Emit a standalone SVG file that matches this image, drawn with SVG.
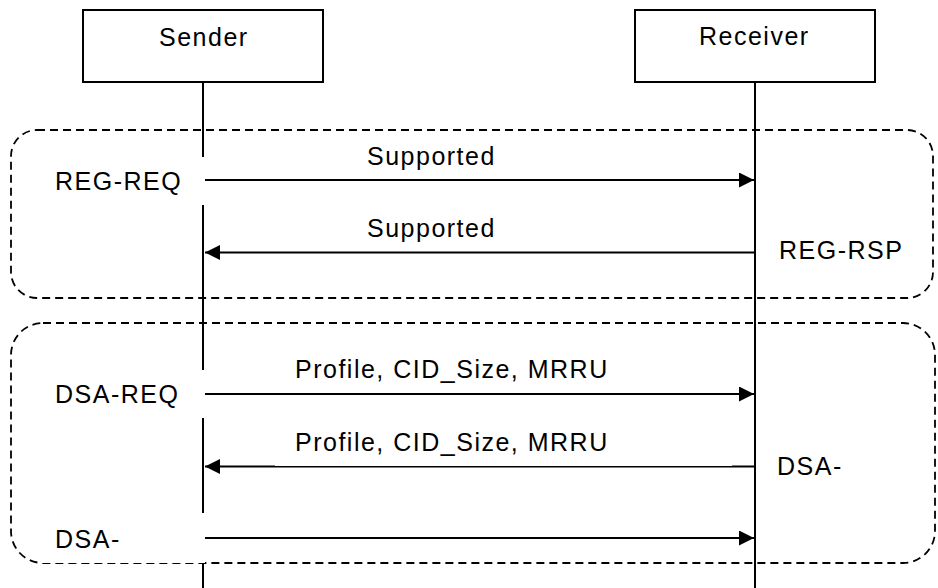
<svg xmlns="http://www.w3.org/2000/svg" width="938" height="588" viewBox="0 0 938 588">
  <style>
    text { font-family: "Liberation Sans", Arial, sans-serif; font-size: 25px; letter-spacing: 1.5px; fill: #000; }
    .box { fill: #fff; stroke: #000; stroke-width: 2; }
    .life { stroke: #000; stroke-width: 2; fill: none; }
    .frame { fill: none; stroke: #000; stroke-width: 1.8; stroke-dasharray: 8 5; }
    .msg { stroke: #000; stroke-width: 2; fill: none; }
    .mask { fill: #fff; stroke: none; }
  </style>
  <defs>
    <marker id="arrow" viewBox="0 0 15 15" refX="15" refY="7.5" markerWidth="15" markerHeight="15" markerUnits="userSpaceOnUse" orient="auto">
      <path d="M0,0 L15,7.5 L0,15 Z" fill="#000"/>
    </marker>
  </defs>

  <rect width="938" height="588" fill="#fff"/>

  <!-- phase frames -->
  <g id="frames">
    <rect class="frame" x="11" y="130" width="922" height="168" rx="26" ry="26"/>
    <rect class="frame" x="11" y="323" width="924" height="240" rx="32" ry="32"/>
  </g>

  <!-- lifelines -->
  <g id="lifelines">
    <line class="life" x1="203" y1="82" x2="203" y2="588"/>
    <line class="life" x1="755" y1="82" x2="755" y2="588"/>
  </g>

  <g id="sender">
    <rect class="box" x="83" y="10" width="240" height="72"/>
    <text x="159" y="45.5">Sender</text>
  </g>

  <g id="receiver">
    <rect class="box" x="635" y="10" width="240" height="72"/>
    <text x="699" y="45">Receiver</text>
  </g>

  <!-- state labels on the lifelines -->
  <g id="label-reg-req">
    <rect class="mask" x="40" y="157" width="165" height="48"/>
    <text x="55" y="190">REG-REQ</text>
  </g>
  <g id="label-reg-rsp">
    <text x="779" y="259">REG-RSP</text>
  </g>
  <g id="label-dsa-req">
    <rect class="mask" x="40" y="370" width="165" height="48"/>
    <text x="55" y="403">DSA-REQ</text>
  </g>
  <g id="label-dsa-rsp">
    <text x="777" y="475">DSA-</text>
  </g>
  <g id="label-dsa-ack">
    <rect class="mask" x="40" y="513" width="165" height="50"/>
    <text x="55" y="548">DSA-</text>
  </g>

  <!-- messages -->
  <g id="connectors">
    <line class="msg" x1="205" y1="180" x2="754" y2="180" marker-end="url(#arrow)"/>
    <line class="msg" x1="754" y1="252.5" x2="205" y2="252.5" marker-end="url(#arrow)"/>
    <line class="msg" x1="205" y1="394" x2="754" y2="394" marker-end="url(#arrow)"/>
    <line class="msg" x1="754" y1="466.5" x2="205" y2="466.5" marker-end="url(#arrow)"/>
    <rect class="mask" x="275" y="464.5" width="457" height="1.5"/>
    <line class="msg" x1="205" y1="538" x2="754" y2="538" marker-end="url(#arrow)"/>
  </g>

  <!-- message labels -->
  <g id="message-labels">
    <text x="367" y="165">Supported</text>
    <text x="367" y="237">Supported</text>
    <text x="295" y="378">Profile, CID_Size, MRRU</text>
    <text x="295" y="451">Profile, CID_Size, MRRU</text>
  </g>
</svg>
